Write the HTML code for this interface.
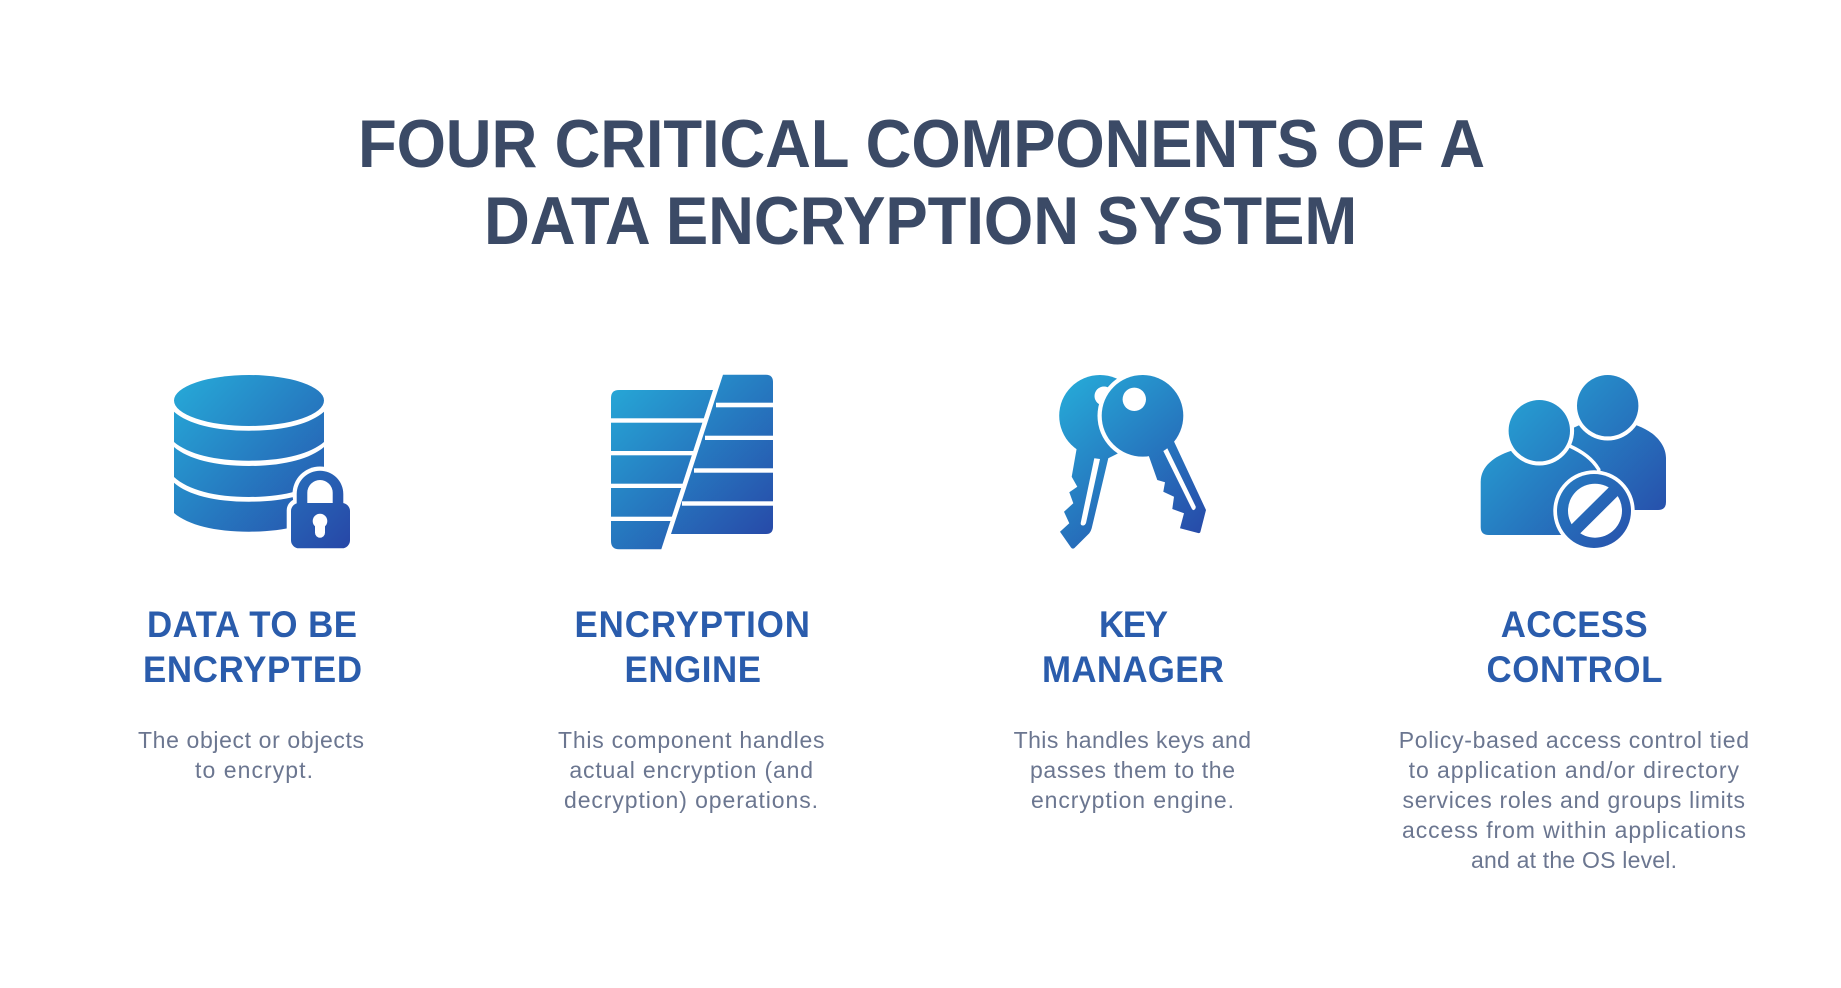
<!DOCTYPE html>
<html>
<head>
<meta charset="utf-8">
<style>
html,body{margin:0;padding:0;background:#fff;width:1841px;height:988px;overflow:hidden}
svg{display:block}
text{font-family:"Liberation Sans",sans-serif}
.t{font-size:67.5px;font-weight:700;fill:#3b4a66}
.h{font-size:37.5px;font-weight:700;fill:#2a5cac}
.b{font-size:23px;font-weight:400;fill:#6b7690}
</style>
</head>
<body>
<svg width="1841" height="988" viewBox="0 0 1841 988" xmlns="http://www.w3.org/2000/svg">
<defs>
<linearGradient id="g1" gradientUnits="userSpaceOnUse" x1="175" y1="385" x2="345" y2="545"><stop offset="0" stop-color="#26a8d7"/><stop offset="1" stop-color="#2749a8"/></linearGradient>
<linearGradient id="g2" gradientUnits="userSpaceOnUse" x1="615" y1="380" x2="770" y2="540"><stop offset="0" stop-color="#26a8d7"/><stop offset="1" stop-color="#2749a8"/></linearGradient>
<linearGradient id="g3" gradientUnits="userSpaceOnUse" x1="1065" y1="385" x2="1200" y2="540"><stop offset="0" stop-color="#26a8d7"/><stop offset="1" stop-color="#2749a8"/></linearGradient>
<linearGradient id="g4" gradientUnits="userSpaceOnUse" x1="1490" y1="385" x2="1660" y2="545"><stop offset="0" stop-color="#26a8d7"/><stop offset="1" stop-color="#2749a8"/></linearGradient>
</defs>
<rect width="1841" height="988" fill="#fff"/>

<text class="t" transform="translate(358 167) scale(.94 1)" textLength="1199" lengthAdjust="spacing">FOUR CRITICAL COMPONENTS OF A</text>
<text class="t" transform="translate(484 244) scale(.94 1)" textLength="929" lengthAdjust="spacing">DATA ENCRYPTION SYSTEM</text>

<!-- database -->
<g fill="url(#g1)">
<ellipse cx="249" cy="400.500" rx="75" ry="25.500"/>
<path d="M174,411.700 C188,424 215,430.700 249,430.700 C283,430.700 310,424 324,411.700 L324,442 C310,454 283,460.700 249,460.700 C215,460.700 188,454 174,442 Z"/>
<path d="M174,447 C188,459 215,466 249,466 C283,466 310,459 324,447 L324,477 C310,490 283,497 249,497 C215,497 188,490 174,477 Z"/>
<path d="M174,482.700 C188,495 215,501.700 249,501.700 C283,501.700 310,495 324,482.700 L324,513 C310,525 283,531.700 249,531.700 C215,531.700 188,525 174,513 Z"/>
</g>
<!-- lock -->
<circle cx="320" cy="494" r="27.500" fill="#fff"/>
<rect x="286.700" y="498.500" width="68" height="54" rx="12" fill="#fff"/>
<path fill="url(#g1)" d="M296.700,506 V494 A23.300,23.300 0 0 1 343.300,494 V506 H332.700 V492.700 A12.700,12.700 0 0 0 307.300,492.700 V506 Z"/>
<rect x="291" y="503" width="59" height="45.300" rx="8" fill="url(#g1)"/>
<circle cx="320" cy="521" r="7.300" fill="#fff"/>
<rect x="315" y="521" width="10" height="16.700" rx="5" fill="#fff"/>

<!-- engine -->
<path fill="url(#g2)" d="M619,390 L713,390 L661.300,549.300 L619,549.300 Q611,549.300 611,541 L611,398 Q611,390 619,390 Z"/>
<g fill="#fff">
<rect x="605" y="418.300" width="100" height="4.400"/>
<rect x="605" y="451" width="90" height="4.300"/>
<rect x="605" y="483.700" width="80" height="4.300"/>
<rect x="605" y="516.700" width="70" height="4.300"/>
</g>
<path fill="url(#g2)" d="M723,374.700 L766,374.700 Q773,374.700 773,382 L773,527 Q773,534 766,534 L671,534 Z"/>
<g fill="#fff">
<rect x="716" y="402.700" width="62" height="4.600"/>
<rect x="705" y="435.700" width="73" height="4.300"/>
<rect x="694" y="468.300" width="84" height="4.400"/>
<rect x="682" y="501.300" width="96" height="4.400"/>
</g>

<!-- keys -->
<path fill="url(#g3)" d="M1077.300,445 L1071.700,476.700 L1077.300,486.700 L1069.300,492.300 L1073.300,503.300 L1064,511.700 L1069.300,523.300 L1060,531.700 L1071,547.500 Q1072.500,549.500 1074.500,548 L1089.300,533.300 Q1091,531 1091.700,528.300 L1108.300,458.300 L1118.300,453.300 L1110,445 Z"/>
<path fill="#fff" d="M1094.300,458.300 L1100,459 L1086,523 Q1085,525.500 1083,525.500 Q1080.500,525.500 1080.700,523 Z"/>
<circle cx="1100" cy="415.800" r="40.800" fill="url(#g3)"/>
<circle cx="1104" cy="396" r="9.500" fill="#fff"/>
<circle cx="1142.500" cy="415.800" r="45" fill="#fff"/>
<path fill="url(#g3)" d="M1146.700,450 L1157.300,480 L1165,482.300 L1163.300,491.700 L1174,496.700 L1172.300,509 L1184,513.300 L1180,528.300 L1198,533 Q1200,533.500 1200.500,531.500 L1206,510 L1173.300,440 Z"/>
<path fill="#fff" d="M1163.300,451 L1167.300,448.300 L1195.700,506.500 Q1196,509 1194,510 Q1192.500,510.500 1191.700,508.500 Z"/>
<circle cx="1142.500" cy="415.800" r="40.800" fill="url(#g3)"/>
<circle cx="1134.300" cy="399.300" r="11.700" fill="#fff"/>

<!-- people -->
<path fill="url(#g4)" d="M1573,428 L1578,425.700 C1590,420 1625,420 1637.700,425.700 C1655,432 1666,445 1666,458 L1666,502 Q1666,510 1658,510 L1620,510 L1570,455 Z"/>
<circle cx="1607.700" cy="405.700" r="34.800" fill="#fff"/>
<circle cx="1607.700" cy="405.700" r="30.700" fill="url(#g4)"/>
<path fill="url(#g4)" stroke="#fff" stroke-width="7" paint-order="stroke" d="M1510.700,451 L1569.300,447.700 C1581,453 1591,460 1597,470 L1597,535 L1488.700,535 Q1480.700,535 1480.700,527 L1480.700,481.700 C1480.700,466 1495,456 1510.700,451 Z"/>
<circle cx="1539.300" cy="430.700" r="34.800" fill="#fff"/>
<circle cx="1539.300" cy="430.700" r="30.700" fill="url(#g4)"/>
<circle cx="1594" cy="511" r="40.700" fill="#fff"/>
<circle cx="1594" cy="511" r="37" fill="url(#g4)"/>
<circle cx="1595" cy="510.700" r="27" fill="#fff"/>
<line x1="1574" y1="530.700" x2="1615.500" y2="489.500" stroke="url(#g4)" stroke-width="12.500"/>

<!-- headings -->
<text class="h" transform="translate(147 637) scale(.93 1)" textLength="225.800" lengthAdjust="spacing">DATA TO BE</text>
<text class="h" transform="translate(143 682) scale(.93 1)" textLength="235.500" lengthAdjust="spacing">ENCRYPTED</text>
<text class="h" transform="translate(574.500 637) scale(.93 1)" textLength="253.200" lengthAdjust="spacing">ENCRYPTION</text>
<text class="h" transform="translate(624.500 682) scale(.93 1)" textLength="146.800" lengthAdjust="spacing">ENGINE</text>
<text class="h" transform="translate(1099 637) scale(.93 1)" textLength="74.200" lengthAdjust="spacing">KEY</text>
<text class="h" transform="translate(1042 682) scale(.93 1)" textLength="195.700" lengthAdjust="spacing">MANAGER</text>
<text class="h" transform="translate(1500.700 637) scale(.93 1)" textLength="158" lengthAdjust="spacing">ACCESS</text>
<text class="h" transform="translate(1486.500 682) scale(.93 1)" textLength="189.200" lengthAdjust="spacing">CONTROL</text>

<!-- body -->
<text class="b" x="138" y="748" textLength="226" lengthAdjust="spacing">The object or objects</text>
<text class="b" x="195" y="778" textLength="118" lengthAdjust="spacing">to encrypt.</text>

<text class="b" x="558" y="748" textLength="266.500" lengthAdjust="spacing">This component handles</text>
<text class="b" x="569.400" y="778" textLength="243.600" lengthAdjust="spacing">actual encryption (and</text>
<text class="b" x="564" y="808" textLength="254" lengthAdjust="spacing">decryption) operations.</text>

<text class="b" x="1013.600" y="748" textLength="237.400" lengthAdjust="spacing">This handles keys and</text>
<text class="b" x="1030" y="778" textLength="205" lengthAdjust="spacing">passes them to the</text>
<text class="b" x="1031" y="808" textLength="203" lengthAdjust="spacing">encryption engine.</text>

<text class="b" x="1398.700" y="748" textLength="350.300" lengthAdjust="spacing">Policy-based access control tied</text>
<text class="b" x="1408.600" y="778" textLength="330.400" lengthAdjust="spacing">to application and/or directory</text>
<text class="b" x="1402.500" y="808" textLength="342.500" lengthAdjust="spacing">services roles and groups limits</text>
<text class="b" x="1402" y="838" textLength="344" lengthAdjust="spacing">access from within applications</text>
<text class="b" x="1471" y="868" textLength="206" lengthAdjust="spacing">and at the OS level.</text>
</svg>
</body>
</html>
